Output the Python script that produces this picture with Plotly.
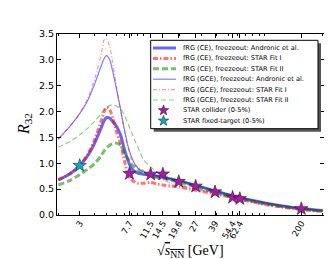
import plotly.graph_objects as go

# ---------------- data ----------------
sqrt_s = [2, 2.5, 3, 3.5, 4, 4.5, 4.8, 5, 5.3, 5.6, 6, 6.5, 7, 7.5, 8, 8.5, 9, 10,
          11.5, 13, 14.5, 17, 20, 27, 39, 54.4, 62.4, 80, 100, 140, 200, 300]

ce_andronic = [0.68, 0.80, 0.955, 1.15, 1.40, 1.68, 1.84, 1.885, 1.87, 1.81, 1.72, 1.55,
               1.27, 1.05, 0.90, 0.84, 0.81, 0.79, 0.77, 0.75, 0.73, 0.69, 0.655, 0.57,
               0.465, 0.37, 0.335, 0.28, 0.235, 0.175, 0.125, 0.085]
ce_fit1 = [0.68, 0.80, 0.96, 1.18, 1.47, 1.82, 2.02, 2.085, 2.03, 1.88, 1.62, 1.38,
           1.05, 0.78, 0.68, 0.64, 0.615, 0.615, 0.63, 0.60, 0.58, 0.56, 0.54, 0.48,
           0.41, 0.335, 0.30, 0.25, 0.205, 0.15, 0.105, 0.068]
ce_fit2 = [0.58, 0.67, 0.78, 0.89, 1.00, 1.15, 1.25, 1.30, 1.35, 1.38, 1.39, 1.35,
           1.20, 1.08, 0.98, 0.92, 0.87, 0.81, 0.76, 0.73, 0.71, 0.67, 0.63, 0.545,
           0.44, 0.35, 0.315, 0.26, 0.215, 0.16, 0.115, 0.075]
gce_andronic = [1.47, 1.72, 1.96, 2.22, 2.55, 2.88, 3.04, 3.08, 3.00, 2.78, 2.45, 2.05,
                1.65, 1.33, 1.12, 0.99, 0.91, 0.84, 0.79, 0.76, 0.74, 0.70, 0.665, 0.575,
                0.47, 0.375, 0.34, 0.285, 0.24, 0.18, 0.128, 0.088]
gce_fit1 = [1.47, 1.72, 1.97, 2.26, 2.65, 3.10, 3.40, 3.40, 3.25, 2.95, 2.50, 2.03,
            1.62, 1.30, 1.08, 0.97, 0.93, 0.86, 0.76, 0.70, 0.67, 0.62, 0.58, 0.50,
            0.415, 0.34, 0.31, 0.255, 0.21, 0.155, 0.108, 0.07]
gce_fit2 = [1.31, 1.42, 1.55, 1.68, 1.82, 1.96, 2.04, 2.08, 2.12, 2.13, 2.11, 2.05,
            1.93, 1.76, 1.60, 1.45, 1.32, 1.08, 0.93, 0.83, 0.78, 0.72, 0.675, 0.58,
            0.465, 0.37, 0.335, 0.28, 0.23, 0.172, 0.122, 0.082]

collider_s = [7.7, 11.5, 14.5, 19.6, 27, 39, 54.4, 62.4, 200]
collider_r32 = [0.80, 0.787, 0.79, 0.645, 0.555, 0.445, 0.34, 0.315, 0.12]
fxt_s = [3]
fxt_r32 = [0.955]

tick_vals = [3, 7.7, 11.5, 14.5, 19.6, 27, 39, 54.4, 62.4, 200]
tick_text = ["3", "7.7", "11.5", "14.5", "19.6", "27", "39", "54.4", "62.4", "200"]
minor_vals = [2, 4, 5, 6, 7, 8, 9, 10, 20, 30, 40, 50, 60, 70, 80, 90, 100, 300]
y_ticks = [0.0, 0.5, 1.0, 1.5, 2.0, 2.5, 3.0, 3.5]

legend_labels = [
    "fRG (CE), freezeout: Andronic et al.",
    "fRG (CE), freezeout: STAR Fit I",
    "fRG (CE), freezeout: STAR Fit II",
    "fRG (GCE), freezeout: Andronic et al.",
    "fRG (GCE), freezeout: STAR Fit I",
    "fRG (GCE), freezeout: STAR Fit II",
    "STAR collider (0-5%)",
    "STAR fixed-target (0-5%)",
]

# ---------------- styles ----------------
BLUE_T = "rgba(0,0,255,0.6)"
RED_T = "rgba(255,0,0,0.55)"
GREEN_T = "rgba(0,140,0,0.55)"
BLUE_N = "rgba(0,0,255,0.5)"
RED_N = "rgba(255,0,0,0.4)"
GREEN_N = "rgba(0,150,0,0.45)"
MAG = "#a41ea4"
CYAN = "#14a9b3"

styles = [
    (ce_andronic, BLUE_T, 3.0, "solid"),
    (ce_fit1, RED_T, 3.0, "5px,2px,1.5px,2px"),
    (ce_fit2, GREEN_T, 3.0, "6px,3px"),
    (gce_andronic, BLUE_N, 1.2, "solid"),
    (gce_fit1, RED_N, 1.2, "4px,2px,1px,2px"),
    (gce_fit2, GREEN_N, 1.2, "5px,3px"),
]

W, H = 332, 259
L, R, T, B = 49, 316, 26, 207

fig = go.Figure()
for vals, col, w, dash in styles:
    fig.add_trace(go.Scatter(x=sqrt_s, y=vals, mode="lines",
                             line=dict(color=col, width=w, dash=dash, shape="spline", smoothing=0.8),
                             showlegend=False, hoverinfo="skip"))

fig.add_trace(go.Scatter(x=collider_s, y=collider_r32, mode="markers",
                         marker=dict(symbol="star", size=10, color=MAG,
                                     line=dict(color="#3a103a", width=0.6)),
                         showlegend=False))
fig.add_trace(go.Scatter(x=fxt_s, y=fxt_r32, mode="markers",
                         marker=dict(symbol="star", size=10, color=CYAN,
                                     line=dict(color="#0c3a3d", width=0.6)),
                         showlegend=False))


def px(x):
    return (x - L) / (R - L)


def py(y):
    return (B - y) / (B - T)


shapes = []
annotations = []
# legend frame with shadow
lx0, lx1, ly0, ly1 = 142.7, 310, 32.3, 120.7
shapes.append(dict(type="rect", xref="paper", yref="paper", layer="above",
                   x0=px(lx0 + 3), x1=px(lx1 + 3), y0=py(ly0 + 3), y1=py(ly1 + 3),
                   fillcolor="#555555", line=dict(width=0)))
shapes.append(dict(type="rect", xref="paper", yref="paper", layer="above",
                   x0=px(lx0), x1=px(lx1), y0=py(ly0), y1=py(ly1),
                   fillcolor="white", line=dict(color="black", width=1)))


def star_path(r_out, r_in):
    import math
    pts = []
    for k in range(10):
        ang = math.pi / 2 + k * math.pi / 5
        r = r_out if k % 2 == 0 else r_in
        pts.append((r * math.cos(ang), r * math.sin(ang)))
    return "M " + " L ".join(f"{x:.2f},{y:.2f}" for x, y in pts) + " Z"


row0, drow = 40.0, 10.4
for i, lab in enumerate(legend_labels):
    ry = row0 + drow * i
    if i < 6:
        _, col, w, dash = styles[i]
        shapes.append(dict(type="line", xref="paper", yref="paper", layer="above",
                           x0=px(145), x1=px(168), y0=py(ry), y1=py(ry),
                           line=dict(color=col, width=w, dash=dash)))
    else:
        fc, lc = (MAG, "#3a103a") if i == 6 else (CYAN, "#0c3a3d")
        shapes.append(dict(type="path", xref="paper", yref="paper", layer="above",
                           xsizemode="pixel", ysizemode="pixel",
                           xanchor=px(155.5), yanchor=py(ry),
                           path=star_path(5.5, 2.2),
                           fillcolor=fc, line=dict(color=lc, width=0.6)))
    annotations.append(dict(x=px(172.5), y=py(ry), xref="paper", yref="paper",
                            xanchor="left", yanchor="middle", showarrow=False,
                            text=lab, font=dict(family="DejaVu Sans", size=6.6, color="black")))

annotations.append(dict(x=0.5, y=py(243), xref="paper", yref="paper",
                        xanchor="center", yanchor="middle", showarrow=False,
                        text="√<span style='text-decoration:overline'><i>s</i><sub>NN</sub></span> [GeV]",
                        font=dict(family="Liberation Serif", size=14, color="black")))
annotations.append(dict(x=px(17), y=py(116), xref="paper", yref="paper",
                        xanchor="center", yanchor="middle", showarrow=False, textangle=-90,
                        text="<i>R</i><sub>32</sub>",
                        font=dict(family="Liberation Serif", size=16, color="black")))

fig.update_layout(
    width=W, height=H,
    margin=dict(l=L, r=W - R, t=T, b=H - B, pad=0),
    paper_bgcolor="white", plot_bgcolor="white",
    showlegend=False,
    shapes=shapes, annotations=annotations,
    font=dict(family="DejaVu Sans", color="black"),
)
fig.update_xaxes(type="log", range=[0.290, 2.488],
                 tickmode="array", tickvals=tick_vals, ticktext=tick_text,
                 tickangle=-60, tickfont=dict(size=8.5), ticklabelstandoff=-1,
                 ticks="inside", ticklen=4, tickcolor="black", tickwidth=0.8,
                 minor=dict(ticks="inside", ticklen=2, tickvals=minor_vals,
                            tickcolor="black", tickwidth=0.6, showgrid=False),
                 showline=True, linecolor="black", linewidth=1, mirror="allticks",
                 showgrid=False, zeroline=False)
fig.update_yaxes(range=[0, 3.5], tickmode="array", tickvals=y_ticks,
                 ticktext=[f"{v:.1f}" for v in y_ticks], tickfont=dict(size=9.5),
                 ticks="inside", ticklen=4, tickcolor="black", tickwidth=0.8,
                 showline=True, linecolor="black", linewidth=1, mirror="allticks",
                 showgrid=False, zeroline=False)

fig.write_html("out.html")
